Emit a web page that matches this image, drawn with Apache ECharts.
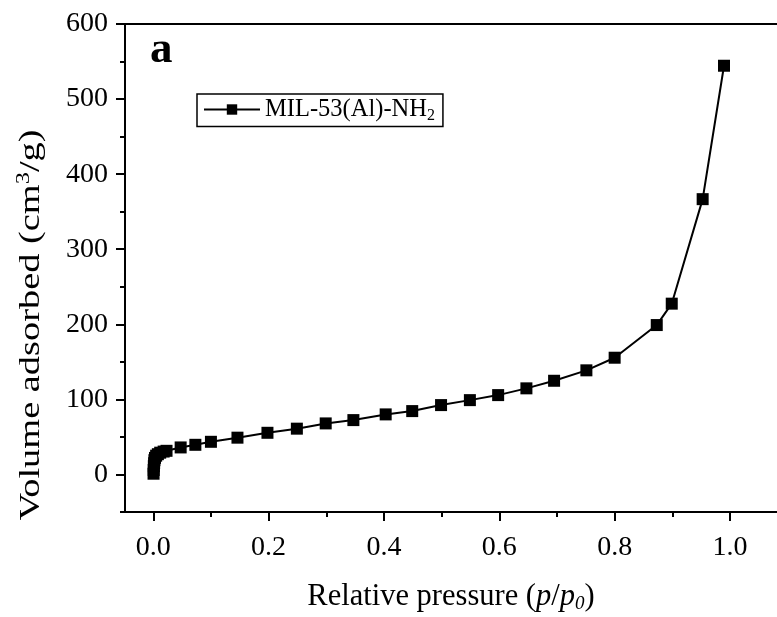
<!DOCTYPE html>
<html><head><meta charset="utf-8">
<script src="https://cdn.jsdelivr.net/npm/echarts@6/dist/echarts.min.js"></script>
<style>html,body{margin:0;padding:0;background:#fff}#c{width:777px;height:617px}</style>
</head><body><div id="c"></div>
<script>
const pressure = [0.0005,0.0008,0.001,0.0015,0.002,0.003,0.005,0.008,0.012,0.018,0.023,0.0475,0.073,0.1,0.146,0.198,0.249,0.299,0.347,0.403,0.449,0.499,0.549,0.598,0.647,0.695,0.751,0.8,0.873,0.899,0.9526,0.9896];
const volume = [1,6,11,15,19,22,25,27,29,30.5,31.5,36,39.5,43.5,49,55.5,61,68,72.4,80,84.4,92.4,99,105.7,114.7,124.8,138.7,155.5,199,227.5,366.7,544.4];
const xMajorTicks = [0,0.2,0.4,0.6,0.8,1.0];
const xMinorTicks = [0.1,0.3,0.5,0.7,0.9];
const yMajorTicks = [0,100,200,300,400,500,600];
const yMinorTicks = [-50,50,150,250,350,450,550];
const seriesName = 'MIL-53(Al)-NH2';

const FONT = 'Liberation Serif';
const chart = echarts.init(document.getElementById('c'));
const xmin = -0.049, xmax = 1.0815, ymin = -50, ymax = 600;
const ls = () => ({color:'#000', width:2});
function tickAxis(pos, min, max, vals, len){
  return {type:'value', min, max, position:pos,
    axisLine:{show:false, onZero:false}, splitLine:{show:false},
    axisTick:{show:true, customValues:vals, length:len, lineStyle:ls()},
    axisLabel:{show:false}};
}
chart.setOption({
  animation:false,
  backgroundColor:'#fff',
  grid:{left:125, top:24, right:0, bottom:105, containLabel:false, outerBoundsMode:'none'},
  legend:{
    left:197, top:94, itemWidth:56, itemHeight:13, itemGap:0,
    padding:[3,8,3,6], borderColor:'#000', borderWidth:1.5,
    data:[seriesName],
    formatter:()=>'MIL-53(Al)-NH{s|2}',
    textStyle:{fontFamily:FONT, fontSize:24.5, color:'#000',
      rich:{s:{fontFamily:FONT, fontSize:16, color:'#000', padding:[12,0,0,0]}}}
  },
  xAxis:[
    {type:'value', min:xmin, max:xmax, position:'bottom',
     axisLine:{show:true, onZero:false, lineStyle:ls()}, splitLine:{show:false},
     axisTick:{show:false},
     axisLabel:{customValues:xMajorTicks, formatter:v=>v.toFixed(1), fontFamily:FONT, fontSize:28, color:'#000', margin:22},
     name:'Relative pressure ({i|p}/{i|p}{si|0})', nameLocation:'middle', nameGap:68,
     nameTextStyle:{fontFamily:FONT, fontSize:30.5, color:'#000',
       rich:{i:{fontFamily:FONT, fontSize:30.5, fontStyle:'italic', color:'#000'},
             si:{fontFamily:FONT, fontSize:19, fontStyle:'italic', color:'#000', padding:[14,0,0,0]}}}},
    tickAxis('bottom', xmin, xmax, xMajorTicks, 9),
    tickAxis('bottom', xmin, xmax, xMinorTicks, 5),
    {type:'value', min:xmin, max:xmax, position:'top',
     axisLine:{show:true, onZero:false, lineStyle:ls()}, splitLine:{show:false},
     axisTick:{show:false}, axisLabel:{show:false}}
  ],
  yAxis:[
    {type:'value', min:ymin, max:ymax, position:'left',
     axisLine:{show:true, onZero:false, lineStyle:ls()}, splitLine:{show:false},
     axisTick:{show:false},
     axisLabel:{customValues:yMajorTicks, fontFamily:FONT, fontSize:28, color:'#000', margin:17}},
    tickAxis('left', ymin, ymax, yMajorTicks, 9),
    tickAxis('left', ymin, ymax, yMinorTicks, 5)
  ],
  graphic:[
    {type:'text', left:150, top:28, style:{text:'a', font:'bold 45px "Liberation Serif"', fill:'#000'}},
    {type:'text', x:31, y:325, rotation:Math.PI/2, scaleX:1.28,
     style:{text:'Volume adsorbed (cm{sup|3}/g)', align:'center', verticalAlign:'middle',
       font:'30px "Liberation Serif"', fill:'#000',
       rich:{sup:{font:'19px "Liberation Serif"', fill:'#000', padding:[0,0,13,0]}}}}
  ],
  series:[{
    name:seriesName, type:'line', xAxisIndex:0, yAxisIndex:0,
    data:pressure.map((p,i)=>[p, volume[i]]),
    symbol:'rect', symbolSize:12, showAllSymbol:true,
    itemStyle:{color:'#000'}, lineStyle:{color:'#000', width:2}
  }]
});
</script></body></html>
